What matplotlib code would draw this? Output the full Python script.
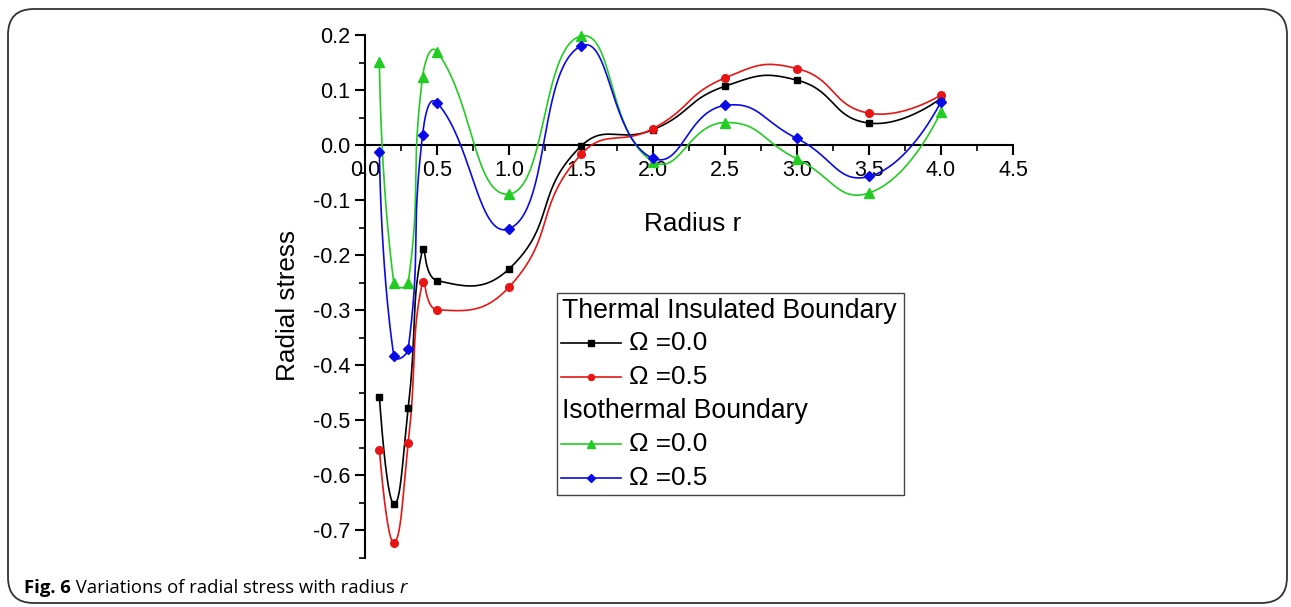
#!/usr/bin/env python3
"""Radial stress vs radius r for two boundary conditions (Fig. 6)."""

import matplotlib

matplotlib.use("Agg")
import matplotlib.pyplot as plt
import numpy as np
from matplotlib.lines import Line2D
from matplotlib.patches import FancyBboxPatch, Rectangle
from matplotlib.ticker import FixedLocator, FormatStrFormatter

plt.rcParams["font.family"] = ["Liberation Sans", "DejaVu Sans"]

W, H = 1291, 607

radius = [0.1, 0.2, 0.3, 0.4, 0.5, 1.0, 1.5, 2.0, 2.5, 3.0, 3.5, 4.0]
insulated_0 = [-0.457, -0.652, -0.478, -0.189, -0.246, -0.225, -0.002, 0.028, 0.107, 0.118, 0.040, 0.085]
insulated_05 = [-0.553, -0.722, -0.542, -0.248, -0.299, -0.258, -0.017, 0.030, 0.122, 0.139, 0.058, 0.091]
isothermal_0 = [0.151, -0.250, -0.250, 0.124, 0.170, -0.089, 0.198, -0.030, 0.041, -0.025, -0.087, 0.061]
isothermal_05 = [-0.012, -0.383, -0.370, 0.019, 0.077, -0.152, 0.180, -0.024, 0.072, 0.012, -0.057, 0.079]

series = [
    ("Ω =0.0", insulated_0, "#000000", "s", 5.0),
    ("Ω =0.5", insulated_05, "#e81515", "o", 5.5),
    ("Ω =0.0", isothermal_0, "#22cc22", "^", 6.5),
    ("Ω =0.5", isothermal_05, "#0a0ae6", "D", 4.8),
]


def smooth_curve(x, y, sx=144.0, sy=553.0, tension=0.5, steps=60):
    # bezier smoothing in screen space, control arms scaled by neighbour distances
    p = np.column_stack([np.asarray(x) * sx, np.asarray(y) * sy])
    n = len(p)
    c_in = p.copy()
    c_out = p.copy()
    for i in range(1, n - 1):
        d0 = np.hypot(*(p[i] - p[i - 1]))
        d1 = np.hypot(*(p[i + 1] - p[i]))
        span = p[i + 1] - p[i - 1]
        c_in[i] = p[i] - tension * d0 / (d0 + d1) * span
        c_out[i] = p[i] + tension * d1 / (d0 + d1) * span
    u = np.linspace(0, 1, steps)[:, None]
    pieces = []
    for i in range(n - 1):
        a, b, c, d = p[i], c_out[i], c_in[i + 1], p[i + 1]
        seg = ((1 - u) ** 3 * a + 3 * (1 - u) ** 2 * u * b
               + 3 * (1 - u) * u ** 2 * c + u ** 3 * d)
        pieces.append(seg if i == 0 else seg[1:])
    curve = np.vstack(pieces)
    return curve[:, 0] / sx, curve[:, 1] / sy


fig = plt.figure(figsize=(W / 100, H / 100), dpi=100)
ax = fig.add_axes([365 / W, 1 - 558 / H, 648 / W, 523 / H])

for label, values, color, marker, ms in series:
    cx, cy = smooth_curve(radius, values)
    ax.plot(cx, cy, color=color, linewidth=1.2, clip_on=False, zorder=3)
    ax.plot(radius, values, linestyle="none", marker=marker, markersize=ms,
            color=color, clip_on=False, zorder=4)

ax.set_xlim(0, 4.5)
ax.set_ylim(-0.75, 0.2)
ax.spines["top"].set_visible(False)
ax.spines["right"].set_visible(False)
ax.spines["bottom"].set_position(("data", 0))
for sp in ("left", "bottom"):
    ax.spines[sp].set_linewidth(1.5)

xt = np.round(np.arange(0, 4.51, 0.5), 2) + 0.0
yt = np.round(np.arange(-0.7, 0.21, 0.1), 2) + 0.0
ax.xaxis.set_major_locator(FixedLocator(xt))
ax.xaxis.set_minor_locator(FixedLocator(np.round(np.arange(0.25, 4.5, 0.5), 2)))
ax.yaxis.set_major_locator(FixedLocator(yt))
ax.yaxis.set_minor_locator(FixedLocator(np.round(np.arange(-0.75, 0.2, 0.1), 2)))
ax.xaxis.set_major_formatter(FormatStrFormatter("%.1f"))
ax.yaxis.set_major_formatter(FormatStrFormatter("%.1f"))
ax.tick_params(which="major", direction="out", length=7.5, width=1.5, labelsize=15.5, pad=3)
ax.tick_params(which="minor", direction="out", length=4.5, width=1.2)

ax.set_xlabel("Radius r", fontsize=18.8)
ax.xaxis.set_label_coords(0.506, (558 - 212) / 523)
ax.set_ylabel("Radial stress", fontsize=18.8)
ax.yaxis.set_label_coords((300 - 365) / 648, (558 - 305) / 523)


def fx(px):
    return px / W


def fy(py):
    return 1 - py / H


# legend box drawn by hand so the group titles sit flush left
fig.add_artist(Rectangle((fx(557), fy(495)), fx(904) - fx(557), fy(293) - fy(495),
                         transform=fig.transFigure, facecolor="white",
                         edgecolor="#444444", linewidth=1.0, zorder=5))
legend_rows = [
    ("Thermal Insulated Boundary", None, 311),
    (None, series[0], 343),
    (None, series[1], 377),
    ("Isothermal Boundary", None, 411),
    (None, series[2], 444),
    (None, series[3], 478),
]
for title, entry, py in legend_rows:
    if title is not None:
        fig.text(fx(562), fy(py), title, fontsize=19.2, va="center", ha="left", zorder=6)
        continue
    label, _, color, marker, ms = entry
    fig.add_artist(Line2D([fx(561), fx(621)], [fy(py), fy(py)], transform=fig.transFigure,
                          color=color, linewidth=1.2, zorder=6))
    fig.add_artist(Line2D([fx(591)], [fy(py)], transform=fig.transFigure, color=color,
                          marker=marker, markersize=ms * 0.8, linestyle="none", zorder=7))
    fig.text(fx(629), fy(py), label, fontsize=18.8, va="center", ha="left", zorder=6)

# outer frame and caption
fig.add_artist(FancyBboxPatch((fx(8), fy(603)), fx(1287) - fx(8), fy(9) - fy(603),
                              boxstyle="round,pad=0,rounding_size=0.02",
                              transform=fig.transFigure, facecolor="none",
                              edgecolor="#333333", linewidth=1.3, mutation_aspect=W / H))
cap = fig.text(fx(24), fy(593), "Fig. 6", fontsize=13.3, fontweight="bold",
               family=["Open Sans", "DejaVu Sans"], va="baseline", ha="left")
cap2 = ax.annotate(" Variations of radial stress with radius ", xy=(1, 0), xycoords=cap,
                   fontsize=13.3, family=["Open Sans", "DejaVu Sans"], va="bottom",
                   ha="left", annotation_clip=False)
ax.annotate("r", xy=(1, 0), xycoords=cap2, fontsize=13.3, style="italic",
            family=["Open Sans", "DejaVu Sans"], va="bottom", ha="left",
            annotation_clip=False)

fig.savefig("out.png", dpi=100)
